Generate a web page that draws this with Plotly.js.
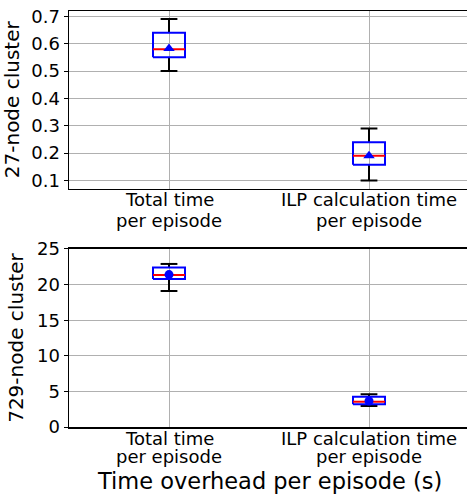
<!DOCTYPE html>
<html><head><meta charset="utf-8">
<script src="https://cdn.plot.ly/plotly-3.0.1.min.js"></script>
<style>html,body{margin:0;padding:0;overflow:hidden;background:#fff}</style>
</head><body><div id="chart" style="width:470px;height:494px"></div>
<script>
// Categories / tick labels
const categories = ["Total time<br>per episode", "ILP calculation time<br>per episode"];
const positions = [1, 2];

// 27-node cluster (seconds)
const small_lower  = [0.50, 0.10];
const small_q1     = [0.55, 0.157];
const small_median = [0.58, 0.19];
const small_q3     = [0.64, 0.24];
const small_upper  = [0.69, 0.29];
const small_mean   = [0.582, 0.19];

// 729-node cluster (seconds)
const large_lower  = [19.1, 2.95];
const large_q1     = [20.8, 3.2];
const large_median = [21.35, 3.55];
const large_q3     = [22.4, 4.25];
const large_upper  = [22.9, 4.6];
const large_mean   = [21.4, 3.65];

const smallTicks = [0.1, 0.2, 0.3, 0.4, 0.5, 0.6, 0.7];
const largeTicks = [0, 5, 10, 15, 20, 25];

const HALF_BOX = 0.08, HALF_CAP = 0.042;

function boxTraces(lo, q1, med, q3, hi, mean, xa, ya, sym) {
  const wx = [], wy = [], bx = [], by = [], mx = [], my = [];
  positions.forEach((p, i) => {
    wx.push(p, p, null, p, p, null, p - HALF_CAP, p + HALF_CAP, null, p - HALF_CAP, p + HALF_CAP, null);
    wy.push(lo[i], q1[i], null, q3[i], hi[i], null, lo[i], lo[i], null, hi[i], hi[i], null);
    bx.push(p - HALF_BOX, p + HALF_BOX, p + HALF_BOX, p - HALF_BOX, p - HALF_BOX, null);
    by.push(q1[i], q1[i], q3[i], q3[i], q1[i], null);
    mx.push(p - HALF_BOX, p + HALF_BOX, null);
    my.push(med[i], med[i], null);
  });
  return [
    {x: wx, y: wy, xaxis: xa, yaxis: ya, mode: 'lines', line: {color: '#000', width: 2}, hoverinfo: 'skip'},
    {x: bx, y: by, xaxis: xa, yaxis: ya, mode: 'lines', line: {color: '#0000ff', width: 2}, hoverinfo: 'skip'},
    {x: mx, y: my, xaxis: xa, yaxis: ya, mode: 'lines', line: {color: '#ff0000', width: 2}, hoverinfo: 'skip'},
    {x: positions, y: mean, xaxis: xa, yaxis: ya, mode: 'markers',
     marker: {symbol: sym, color: '#0000ff', size: sym === 'circle' ? 9 : 10, line: {width: 0}}}
  ];
}

const data = [].concat(
  boxTraces(small_lower, small_q1, small_median, small_q3, small_upper, small_mean, 'x', 'y', 'triangle-up'),
  boxTraces(large_lower, large_q1, large_median, large_q3, large_upper, large_mean, 'x2', 'y2', 'circle')
);

const font = {family: 'DejaVu Sans, sans-serif', color: '#000'};
const xCommon = {
  range: [0.5, 2.5], tickvals: positions, showticklabels: false,
  showgrid: true, gridcolor: '#b0b0b0', gridwidth: 1,
  showline: true, linecolor: '#000', linewidth: 1.5, mirror: true,
  ticks: '', zeroline: false, fixedrange: true
};
const yCommon = {
  showgrid: true, gridcolor: '#b0b0b0', gridwidth: 1,
  showline: true, linecolor: '#000', linewidth: 1.5, mirror: false,
  ticks: 'outside', ticklen: 4, tickcolor: '#000',
  tickfont: Object.assign({size: 18}, font), zeroline: false, fixedrange: true
};

// category labels drawn as annotations under each panel, one per line
const labelShifts = {y: [1.5, -19], y2: [1, -17]};
const annotations = [];
['y', 'y2'].forEach((ya) => {
  const xa = ya === 'y' ? 'x' : 'x2';
  categories.forEach((lab, i) => {
    lab.split('<br>').forEach((line, j) => {
      annotations.push({
        text: line, x: positions[i], xref: xa, y: 0, yref: ya + ' domain',
        yanchor: 'top', xanchor: 'center', showarrow: false,
        yshift: labelShifts[ya][j], font: Object.assign({size: 18}, font)
      });
    });
  });
});
annotations.push({
  text: 'Time overhead per episode (s)', x: 0.5, xref: 'x2 domain', y: 0, yref: 'y2 domain',
  yanchor: 'top', xanchor: 'center', showarrow: false, yshift: -39,
  font: Object.assign({size: 22.5}, font)
});

const layout = {
  width: 470, height: 494,
  margin: {l: 69, r: 1, t: 11, b: 67},
  showlegend: false,
  paper_bgcolor: '#fff', plot_bgcolor: '#fff',
  font: font,
  annotations: annotations,
  xaxis: Object.assign({}, xCommon, {anchor: 'y', domain: [0, 1]}),
  yaxis: Object.assign({}, yCommon, {
    anchor: 'x', domain: [0.5733, 1], range: [0.0705, 0.7195],
    tickvals: smallTicks, tickformat: '.1f',
    title: {text: '27-node cluster', font: Object.assign({size: 20}, font), standoff: 8}
  }),
  xaxis2: Object.assign({}, xCommon, {anchor: 'y2', domain: [0, 1]}),
  yaxis2: Object.assign({}, yCommon, {
    anchor: 'x2', domain: [0, 0.4279], range: [0, 25],
    tickvals: largeTicks,
    title: {text: '729-node cluster', font: Object.assign({size: 20}, font), standoff: 8}
  })
};

Plotly.newPlot('chart', data, layout, {displayModeBar: false, staticPlot: true});
</script></body></html>
